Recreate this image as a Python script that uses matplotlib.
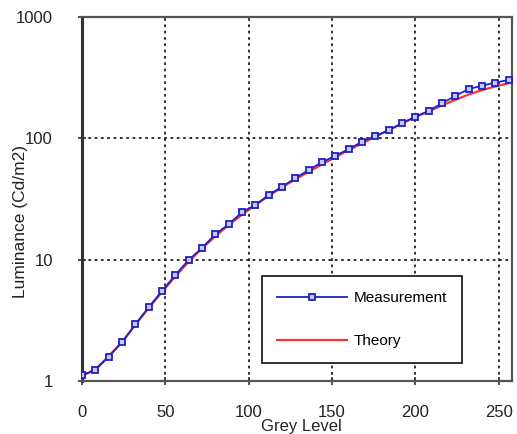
import matplotlib.pyplot as plt

plt.rcParams['font.family'] = ['Liberation Sans', 'DejaVu Sans']

# Данные
grey = [0, 8, 16, 24, 32, 40, 48, 56, 64, 72, 80, 88, 96, 104, 112, 120, 128,
        136, 144, 152, 160, 168, 176, 184, 192, 200, 208, 216, 224, 232, 240, 248, 256]
measurement = [1.12, 1.23, 1.59, 2.08, 2.93, 4.05, 5.52, 7.48, 9.95, 12.5, 16.2, 19.6,
               24.6, 28.3, 34.1, 40.0, 46.9, 55, 63.6, 72, 81.3, 94, 104.7, 117, 133,
               151, 168, 195, 224, 255, 272, 288, 303]
theory = [1.1, 1.25, 1.6, 2.1, 2.9, 4.0, 5.4, 7.3, 9.6, 12.4, 15.6, 19.3, 23.5, 28.2,
          33.5, 39.5, 46, 53, 61, 70, 80, 91, 103, 117, 133, 150, 167, 187, 208, 230,
          250, 268, 285]
xticks = [0, 50, 100, 150, 200, 250]
yticks = [1, 10, 100, 1000]

fig = plt.figure(figsize=(5.17, 4.34), dpi=100)
ax = fig.add_axes([0.1586, 0.1221, 0.832, 0.8387])

ax.plot(grey, theory, color='#ff3030', lw=1.6, label='Theory', zorder=3)
ax.plot(grey, measurement, color='#2020d0', lw=1.3, marker='s', ms=5,
        mfc='#c8c8ff', mec='#2020c0', mew=1.3, label='Measurement', zorder=4)

ax.set_yscale('log')
ax.set_xlim(0, 258)
ax.set_ylim(1, 1000)
ax.set_xticks(xticks)
ax.set_xticklabels([str(v) for v in xticks])
ax.set_yticks(yticks)
ax.set_yticklabels([str(v) for v in yticks])
ax.minorticks_off()
ax.tick_params(axis='both', labelsize=12, direction='inout', length=6, width=1.2,
               color='#333333', labelcolor='#222222')
ax.tick_params(axis='x', pad=14)
ax.tick_params(axis='y', pad=18)

ax.grid(True, which='major', color='#222222', ls=(0, (1.5, 2)), lw=1.3)
for s in ax.spines.values():
    s.set_color('#555555')
    s.set_linewidth(1.6)
ax.spines['left'].set_linewidth(2.2)
ax.spines['left'].set_color('#333333')

ax.set_xlabel('Grey Level', fontsize=12, color='#222222', va='center')
ax.xaxis.set_label_coords(0.51, -0.124)
ax.set_ylabel('Luminance (Cd/m2)', fontsize=12.5, color='#222222', va='center')
ax.yaxis.set_label_coords(-0.144, 0.437)

h, l = ax.get_legend_handles_labels()
leg = ax.legend(h[::-1], l[::-1], loc='lower left', bbox_to_anchor=(0.418, 0.049),
                borderaxespad=0, fontsize=11, fancybox=False, framealpha=1,
                edgecolor='#222222', handlelength=4.6, labelspacing=1.9,
                borderpad=1.0, handletextpad=0.4)
leg.get_frame().set_linewidth(1.3)
leg.set_zorder(10)

plt.savefig('out.png', dpi=100)
